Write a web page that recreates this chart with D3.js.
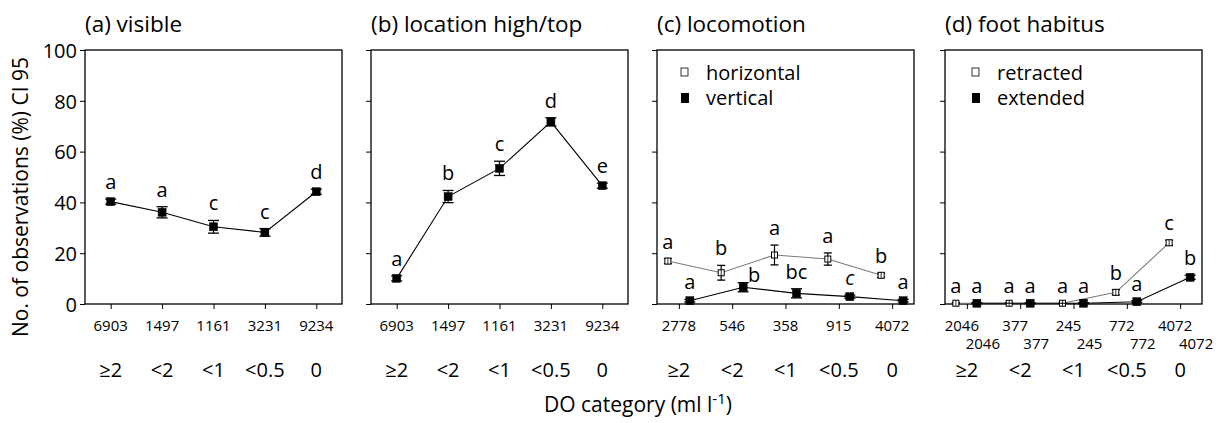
<!DOCTYPE html>
<html><head><meta charset="utf-8">
<script src="https://cdn.jsdelivr.net/npm/d3@7/dist/d3.min.js"></script>
<style>
body{margin:0;background:#fff;}
text{font-family:"Open Sans",sans-serif;fill:#000;}
</style></head>
<body><svg id="chart" width="1227" height="423"></svg>
<script>
// ---- data ----
const categories = ["≥2", "<2", "<1", "<0.5", "0"];
const yTicks = [0, 20, 40, 60, 80, 100];
const panelTitles = ["(a) visible", "(b) location high/top", "(c) locomotion", "(d) foot habitus"];

const countsA = [6903, 1497, 1161, 3231, 9234];
const visibleVals = [40.3, 36.1, 30.4, 28.2, 44.2];
const visibleErr = [1.0, 2.2, 2.5, 1.5, 1.0];
const visibleLetters = ["a", "a", "c", "c", "d"];

const countsB = [6903, 1497, 1161, 3231, 9234];
const highVals = [10.1, 42.3, 53.4, 71.7, 46.6];
const highErr = [1.0, 2.4, 2.8, 1.6, 1.0];
const highLetters = ["a", "b", "c", "d", "e"];

const countsC = [2778, 546, 358, 915, 4072];
const horizVals = [16.9, 12.3, 19.3, 17.7, 11.3];
const horizErr = [1.0, 2.9, 3.9, 2.4, 0.8];
const horizLetters = ["a", "b", "a", "a", "b"];
const vertVals = [1.3, 6.6, 4.2, 2.9, 1.3];
const vertErr = [0.5, 1.8, 1.8, 0.6, 0.5];
const vertLetters = ["a", "b", "bc", "c", "a"];

const countsD = [2046, 377, 245, 772, 4072];
const retrVals = [0.3, 0.3, 0.3, 4.6, 24.1];
const retrErr = [0.2, 0.2, 0.2, 1.0, 1.0];
const retrLetters = ["a", "a", "a", "b", "c"];
const extVals = [0.3, 0.3, 0.3, 0.9, 10.5];
const extErr = [0.2, 0.2, 0.2, 0.4, 0.8];
const extLetters = ["a", "a", "a", "a", "b"];

// ---- layout ----
const svg = d3.select("#chart");
const plotTop = 50, plotBottom = 304, pw = 257;
const y = d3.scaleLinear().domain([0, 100]).range([plotBottom, plotTop]);

const panels = [
  {left: 85, pad: 0.5, counts: [countsA], legend: null,
   series: [{vals: visibleVals, err: visibleErr, letters: visibleLetters, open: false, off: 0}]},
  {left: 371, pad: 0.5, counts: [countsB], legend: null,
   series: [{vals: highVals, err: highErr, letters: highLetters, open: false, off: 0}]},
  {left: 657, pad: 0.41, counts: [countsC], legend: ["horizontal", "vertical"],
   series: [{vals: horizVals, err: horizErr, letters: horizLetters, open: true, off: -11},
            {vals: vertVals, err: vertErr, letters: vertLetters, open: false, off: 11,
             nudge: {1: [11, 9]}, italic: {3: true}}]},
  {left: 945, pad: 0.41, counts: [countsD, countsD], legend: ["retracted", "extended"],
   series: [{vals: retrVals, err: retrErr, letters: retrLetters, open: true, off: -11},
            {vals: extVals, err: extErr, letters: extLetters, open: false, off: 10}]}
];

panels.forEach((p, pi) => {
  const x = d3.scalePoint().domain(d3.range(categories.length)).range([p.left, p.left + pw]).padding(p.pad);
  const g = svg.append("g");

  // title
  g.append("text").attr("x", p.left).attr("y", 32)
    .attr("text-anchor", "start").style("font-size", "22.5px").text(panelTitles[pi]);

  // y axis ticks
  const ya = d3.axisLeft(y).tickValues(yTicks).tickSize(5).tickFormat(pi === 0 ? d3.format("d") : "");
  const yg = g.append("g").attr("transform", `translate(${p.left},0)`).call(ya);
  yg.select(".domain").remove();
  yg.selectAll("line").attr("stroke", "#000").attr("stroke-width", 1);
  yg.selectAll("text").style("font-size", "20px").attr("dy", "0.36em").attr("x", -8);

  // x axis ticks
  const xa = d3.axisBottom(x).tickSize(5).tickFormat("");
  const xg = g.append("g").attr("transform", `translate(0,${plotBottom})`).call(xa);
  xg.select(".domain").remove();
  xg.selectAll("line").attr("stroke", "#000").attr("stroke-width", 1);

  // frame
  g.append("rect").attr("x", p.left).attr("y", plotTop).attr("width", pw).attr("height", plotBottom - plotTop)
    .attr("fill", "none").attr("stroke", "#000").attr("stroke-width", 1.3);

  // counts
  if (p.counts.length === 1) {
    g.selectAll(null).data(p.counts[0]).enter().append("text")
      .attr("x", (d, i) => x(i)).attr("y", 330.5).attr("text-anchor", "middle")
      .style("font-size", "15px").text(d => d);
  } else {
    g.selectAll(null).data(p.counts[0]).enter().append("text")
      .attr("x", (d, i) => x(i) - 5).attr("y", 330.5).attr("text-anchor", "middle")
      .style("font-size", "15px").text(d => d);
    g.selectAll(null).data(p.counts[1]).enter().append("text")
      .attr("x", (d, i) => x(i) + 16).attr("y", 348.5).attr("text-anchor", "middle")
      .style("font-size", "15px").text(d => d);
  }

  // categories
  g.selectAll(null).data(categories).enter().append("text")
    .attr("x", (d, i) => x(i)).attr("y", 377).attr("text-anchor", "middle")
    .style("font-size", "20px").text(d => d);

  // series
  p.series.forEach(s => {
    const col = s.open ? "#7a7a7a" : "#000";
    const pts = s.vals.map((v, i) => [x(i) + s.off, y(v)]);
    g.append("path").attr("d", d3.line()(pts)).attr("fill", "none")
      .attr("stroke", col).attr("stroke-width", 1.1);
    const cap = s.open ? 4 : 5.5;
    s.vals.forEach((v, i) => {
      const cx = x(i) + s.off;
      const y1 = y(v + s.err[i]), y2 = y(Math.max(0, v - s.err[i]));
      g.append("line").attr("x1", cx).attr("x2", cx).attr("y1", y1).attr("y2", y2).attr("stroke", "#000").attr("stroke-width", 1.2);
      g.append("line").attr("x1", cx - cap).attr("x2", cx + cap).attr("y1", y1).attr("y2", y1).attr("stroke", "#000").attr("stroke-width", 1.3);
      g.append("line").attr("x1", cx - cap).attr("x2", cx + cap).attr("y1", y2).attr("y2", y2).attr("stroke", "#000").attr("stroke-width", 1.3);
      const sz = s.open ? 6 : 8;
      g.append("rect").attr("x", cx - sz / 2).attr("y", y(v) - sz / 2).attr("width", sz).attr("height", sz)
        .attr("fill", s.open ? "#fff" : "#000").attr("stroke", "#000").attr("stroke-width", s.open ? 1 : 0.5);
      if (s.open) {
        g.append("line").attr("x1", cx).attr("x2", cx).attr("y1", y(v) - sz / 2).attr("y2", y(v) + sz / 2).attr("stroke", "#000").attr("stroke-width", 0.8);
      }
      const nd = (s.nudge && s.nudge[i]) || [0, 0];
      g.append("text").attr("x", cx + nd[0]).attr("y", y1 - 10 + nd[1])
        .attr("text-anchor", "middle").style("font-size", "20px")
        .style("font-style", s.italic && s.italic[i] ? "italic" : "normal")
        .text(s.letters[i]);
    });
  });

  // legend
  if (p.legend) {
    const lx = p.left + (pi === 2 ? 24 : 27);
    g.append("rect").attr("x", lx).attr("y", 68).attr("width", 7).attr("height", 8)
      .attr("fill", "#fff").attr("stroke", "#000").attr("stroke-width", 0.8);
    g.append("text").attr("x", lx + 25).attr("y", 80).style("font-size", "20px").text(p.legend[0]);
    g.append("rect").attr("x", lx).attr("y", 93).attr("width", 8).attr("height", 10).attr("fill", "#000");
    g.append("text").attr("x", lx + 25).attr("y", 105).style("font-size", "20px").text(p.legend[1]);
  }
});

// axis titles
svg.append("text").attr("transform", "translate(28,197) rotate(-90)").attr("text-anchor", "middle")
  .style("font-size", "21px").text("No. of observations (%) CI 95");
const xt = svg.append("text").attr("x", 638).attr("y", 412).attr("text-anchor", "middle").style("font-size", "21px");
xt.append("tspan").text("DO category (ml l");
xt.append("tspan").attr("dy", -8).style("font-size", "15px").text("-1");
xt.append("tspan").attr("dy", 8).text(")");
</script></body></html>
